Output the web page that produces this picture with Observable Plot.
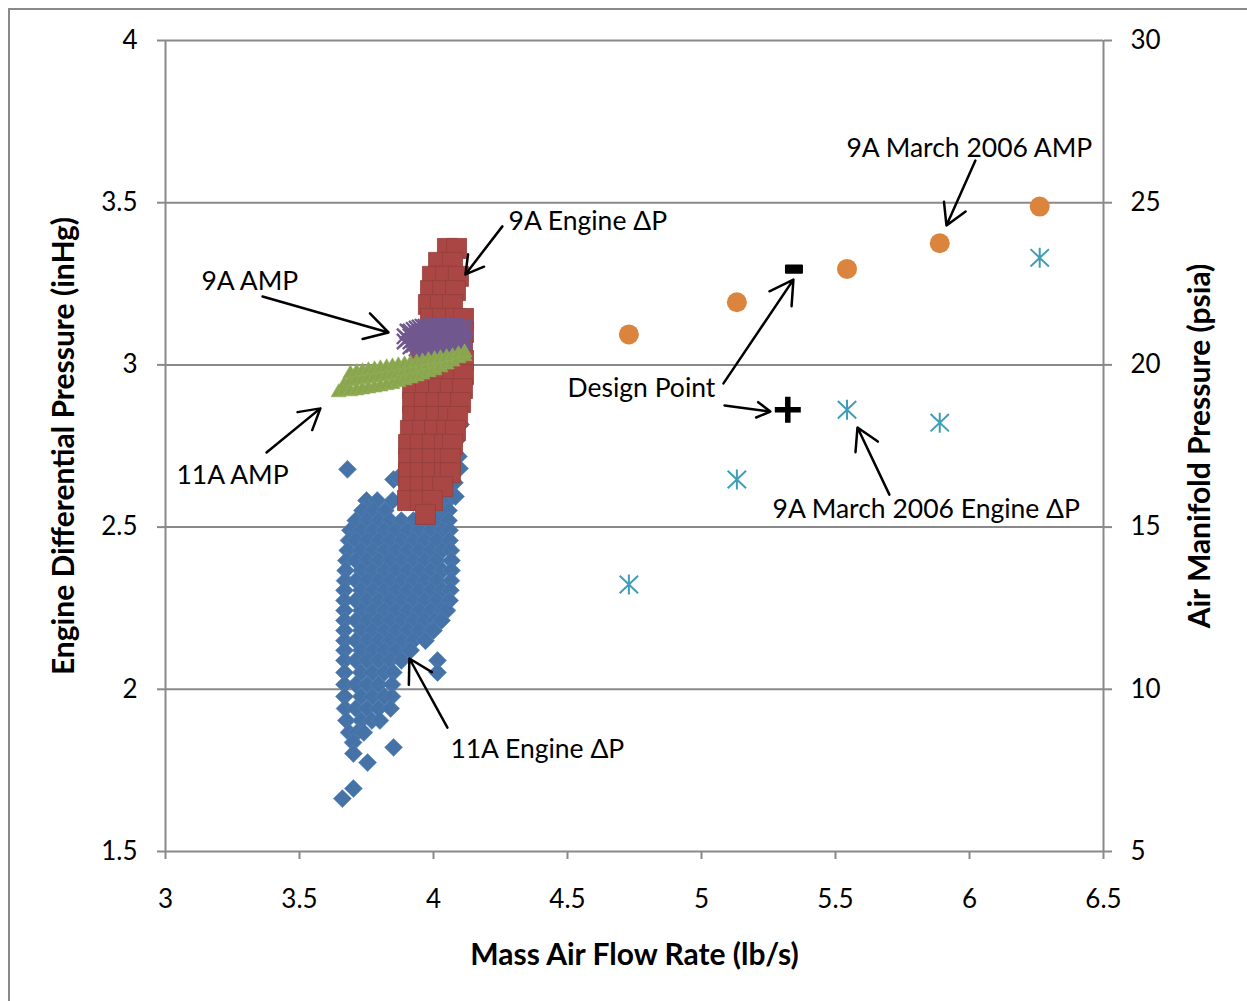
<!DOCTYPE html>
<html><head><meta charset="utf-8">
<script src="https://cdn.jsdelivr.net/npm/d3@7"></script>
<script src="https://cdn.jsdelivr.net/npm/@observablehq/plot@0.6"></script>
<style>
html,body{margin:0;padding:0;background:#fff;overflow:hidden;}
#wrap{position:relative;width:1247px;height:1001px;overflow:hidden;}
#frame{position:absolute;left:8px;top:8px;width:1300px;height:1100px;border-top:2px solid #8a8a8a;border-left:2px solid #8a8a8a;pointer-events:none;}
</style></head>
<body><div id="wrap"><div id="frame"></div></div>
<script>
// ---- axes ----
const xTicks = [3, 3.5, 4, 4.5, 5, 5.5, 6, 6.5];
const yLeftTicks = [1.5, 2, 2.5, 3, 3.5, 4];
const yRightTicks = [5, 10, 15, 20, 25, 30];
const xTitle = "Mass Air Flow Rate (lb/s)";
const yLeftTitle = "Engine Differential Pressure (inHg)";
const yRightTitle = "Air Manifold Pressure (psia)";

// ---- 11A Engine ΔP (inHg) : rows of [y, [x...]] ----
const blueRows = [
  [2.582, [3.75, 3.79, 3.848, 4.055]],
  [2.551, [3.735, 3.775, 3.82, 4.035, 4.056]],
  [2.520, [3.71, 3.752, 3.795, 3.838, 3.88, 3.925, 3.968, 4.01, 4.056]],
  [2.490, [3.69, 3.73, 3.773, 3.817, 3.86, 3.903, 3.946, 3.99, 4.033, 4.06]],
  [2.459, [3.685, 3.71, 3.752, 3.795, 3.838, 3.882, 3.925, 3.968, 4.012, 4.06]],
  [2.428, [3.68, 3.73, 3.773, 3.817, 3.86, 3.903, 3.946, 3.99, 4.033, 4.065]],
  [2.397, [3.675, 3.71, 3.752, 3.795, 3.838, 3.882, 3.925, 3.968, 4.012, 4.067]],
  [2.366, [3.672, 3.73, 3.773, 3.817, 3.86, 3.903, 3.946, 3.99, 4.033, 4.067]],
  [2.335, [3.67, 3.71, 3.752, 3.795, 3.838, 3.882, 3.925, 3.968, 4.012, 4.065]],
  [2.305, [3.668, 3.73, 3.773, 3.817, 3.86, 3.903, 3.946, 3.99, 4.033, 4.063]],
  [2.274, [3.668, 3.71, 3.752, 3.795, 3.838, 3.882, 3.925, 3.968, 4.012, 4.06]],
  [2.243, [3.668, 3.73, 3.773, 3.817, 3.86, 3.903, 3.946, 3.99, 4.033, 4.05]],
  [2.212, [3.668, 3.71, 3.752, 3.795, 3.838, 3.882, 3.925, 3.968, 4.005, 4.03]],
  [2.181, [3.668, 3.73, 3.773, 3.817, 3.86, 3.903, 3.946, 3.99, 4.0]],
  [2.150, [3.668, 3.71, 3.752, 3.795, 3.838, 3.882, 3.925, 3.97]],
  [2.120, [3.668, 3.73, 3.773, 3.817, 3.86, 3.903, 3.915]],
  [2.089, [3.668, 3.71, 3.752, 3.795, 3.838, 3.88, 4.015]],
  [2.052, [3.668, 3.73, 3.773, 3.817, 3.85, 4.015]],
  [2.015, [3.668, 3.71, 3.752, 3.795, 3.845]],
  [1.978, [3.668, 3.73, 3.773, 3.817, 3.845]],
  [1.941, [3.67, 3.71, 3.752, 3.795, 3.84]],
  [1.904, [3.675, 3.73, 3.77, 3.80]],
  [1.867, [3.685, 3.715, 3.74]],
  [1.836, [3.70]]
];
const blueExtra = [
  [3.851, 1.821], [3.701, 1.802], [3.754, 1.774], [3.701, 1.694], [3.660, 1.663],
  [3.679, 2.678], [3.851, 2.647], [3.869, 2.653],
  [4.101, 2.816], [4.086, 2.767], [4.093, 2.718], [4.097, 2.681], [4.078, 2.637], [4.082, 2.594]
];

// ---- 9A Engine ΔP (inHg) : rows of [y, [x...]] ----
const redRows = [
  [3.359, [4.052, 4.086]],
  [3.316, [4.019, 4.071]],
  [3.273, [3.996, 4.045, 4.093]],
  [3.229, [3.989, 4.034, 4.082]],
  [3.186, [3.981, 4.026, 4.071]],
  [3.143, [3.989, 4.034, 4.082, 4.112]],
  [3.100, [3.981, 4.026, 4.071, 4.112]],
  [3.057, [3.970, 4.019, 4.063, 4.108]],
  [3.014, [3.951, 3.996, 4.045, 4.093, 4.112]],
  [2.970, [3.933, 3.981, 4.026, 4.071, 4.112]],
  [2.927, [3.922, 3.970, 4.019, 4.063, 4.108]],
  [2.884, [3.922, 3.966, 4.011, 4.056, 4.101]],
  [2.841, [3.922, 3.966, 4.011, 4.056, 4.090]],
  [2.798, [3.914, 3.959, 4.004, 4.049, 4.082]],
  [2.755, [3.907, 3.951, 3.996, 4.041, 4.071]],
  [2.711, [3.907, 3.951, 3.996, 4.041, 4.063]],
  [2.668, [3.907, 3.951, 3.996, 4.041, 4.063]],
  [2.625, [3.907, 3.951, 3.996, 4.034]],
  [2.582, [3.903, 3.951, 3.996]],
  [2.539, [3.970]]
];

// ---- 11A AMP (psia) : [x, psia] ----
const greenAMP = [
  [3.646,19.15],
  [3.668,19.21],[3.668,19.40],
  [3.690,19.18],[3.690,19.49],[3.690,19.73],
  [3.713,19.21],[3.713,19.52],[3.713,19.77],
  [3.735,19.24],[3.735,19.55],[3.735,19.80],
  [3.757,19.27],[3.757,19.58],[3.757,19.83],
  [3.780,19.30],[3.780,19.61],[3.780,19.86],
  [3.802,19.33],[3.802,19.64],[3.802,19.89],
  [3.825,19.37],[3.825,19.67],[3.825,19.92],
  [3.847,19.40],[3.847,19.70],[3.847,19.95],
  [3.869,19.46],[3.869,19.73],[3.869,19.98],
  [3.892,19.52],[3.892,19.80],[3.892,20.01],
  [3.914,19.58],[3.914,19.86],[3.914,20.04],
  [3.937,19.64],[3.937,19.92],[3.937,20.07],
  [3.959,19.70],[3.959,19.98],[3.959,20.10],
  [3.981,19.77],[3.981,20.01],[3.981,20.14],
  [4.004,19.83],[4.004,20.07],[4.004,20.17],
  [4.026,19.92],[4.026,20.14],[4.026,20.20],
  [4.049,20.01],[4.049,20.23],
  [4.071,20.10],[4.071,20.26],
  [4.093,20.20],[4.093,20.32],
  [4.116,20.26],[4.116,20.38]
];

// ---- 9A AMP (psia) : columns of [x, [psia...]] ----
const purpleCols = [
  [3.892, [20.88, 20.72]],
  [3.903, [21.03, 20.80]],
  [3.914, [21.03, 20.88, 20.72, 20.57]],
  [3.926, [21.08, 20.93, 20.77, 20.62]],
  [3.937, [21.12, 20.97, 20.82, 20.66, 20.50]],
  [3.948, [21.15, 21.00, 20.85, 20.69, 20.52]],
  [3.959, [21.18, 21.03, 20.88, 20.72, 20.57, 20.44]],
  [3.970, [21.18, 21.03, 20.88, 20.72, 20.57, 20.44]],
  [3.981, [21.18, 21.03, 20.88, 20.72, 20.57, 20.44]],
  [3.992, [21.20, 21.05, 20.90, 20.74, 20.59, 20.46]],
  [4.004, [21.21, 21.06, 20.91, 20.75, 20.60, 20.47]],
  [4.015, [21.21, 21.06, 20.91, 20.75, 20.60, 20.47]],
  [4.026, [21.21, 21.06, 20.91, 20.75, 20.60, 20.47]],
  [4.037, [21.21, 21.06, 20.91, 20.75, 20.60, 20.47]],
  [4.049, [21.21, 21.06, 20.91, 20.75, 20.60, 20.47]],
  [4.060, [21.21, 21.06, 20.91, 20.75, 20.60, 20.49]],
  [4.071, [21.21, 21.06, 20.91, 20.75, 20.60, 20.50]],
  [4.082, [21.20, 21.05, 20.90, 20.74, 20.58]],
  [4.093, [21.18, 21.03, 20.88, 20.72, 20.57]],
  [4.104, [21.16, 21.01, 20.86, 20.70]],
  [4.116, [21.15, 21.00, 20.85, 20.69]]
];

// ---- 9A March 2006 ----
const marchFlow = [4.729, 5.132, 5.543, 5.889, 6.262];
const marchAMP = [20.94, 21.93, 22.96, 23.75, 24.88];      // psia
const marchDP = [2.323, 2.647, 2.862, 2.822, 3.330];      // inHg

// ---- Design point ----
const designDP = [{x: 5.322, y: 2.862}];     // inHg
const designAMP = [{x: 5.345, psia: 22.95}]; // psia

// ---- annotations (data units, left axis) ----
const annLabels = [
  {x: 5.541, y: 3.667, text: "9A March 2006 AMP"},
  {x: 4.280, y: 3.442, text: "9A Engine \u0394P"},
  {x: 3.134, y: 3.257, text: "9A AMP"},
  {x: 4.500, y: 2.927, text: "Design Point"},
  {x: 3.041, y: 2.659, text: "11A AMP"},
  {x: 5.265, y: 2.554, text: "9A March 2006 Engine \u0394P"},
  {x: 4.063, y: 1.814, text: "11A Engine \u0394P"}
];
const annArrows = [
  {x1: 6.022, y1: 3.630, x2: 5.914, y2: 3.430},
  {x1: 4.257, y1: 3.427, x2: 4.119, y2: 3.279},
  {x1: 3.362, y1: 3.211, x2: 3.832, y2: 3.100},
  {x1: 5.082, y1: 2.943, x2: 5.343, y2: 3.263},
  {x1: 5.086, y1: 2.875, x2: 5.257, y2: 2.856},
  {x1: 3.377, y1: 2.730, x2: 3.578, y2: 2.866},
  {x1: 5.701, y1: 2.600, x2: 5.582, y2: 2.807},
  {x1: 4.052, y1: 1.882, x2: 3.910, y2: 2.095}
];

// secondary axis mapping psia -> left-axis units
const toLeft = p => yLeftTicks[0] + (p - yRightTicks[0]) * (yLeftTicks[1] - yLeftTicks[0]) / (yRightTicks[1] - yRightTicks[0]);

const blue = blueRows.flatMap(([y, xs]) => xs.map(x => ({x, y}))).concat(blueExtra.map(([x, y]) => ({x, y})));
const red = redRows.flatMap(([y, xs]) => xs.map(x => ({x, y})));
const green = greenAMP.map(([x, p]) => ({x, y: toLeft(p)}));
const purple = purpleCols.flatMap(([x, ps]) => ps.map(p => ({x, y: toLeft(p)})));
const marchA = marchFlow.map((x, i) => ({x, y: toLeft(marchAMP[i])}));
const marchD = marchFlow.map((x, i) => ({x, y: marchDP[i]}));

const starSymbol = {draw(ctx, size) { const r = Math.sqrt(size / Math.PI); const a = r * 0.92;
  ctx.moveTo(0, -r); ctx.lineTo(0, r); ctx.moveTo(-a, -a * 0.95); ctx.lineTo(a, a * 0.95); ctx.moveTo(-a, a * 0.95); ctx.lineTo(a, -a * 0.95); }};
const plusSymbol = {draw(ctx, size) { const r = Math.sqrt(size / Math.PI);
  ctx.moveTo(-r, 0); ctx.lineTo(r, 0); ctx.moveTo(0, -r); ctx.lineTo(0, r); }};
const dashSymbol = {draw(ctx, size) { const r = Math.sqrt(size / Math.PI);
  ctx.moveTo(-r, -r * 0.45); ctx.lineTo(r, -r * 0.45); ctx.lineTo(r, r * 0.45); ctx.lineTo(-r, r * 0.45); ctx.closePath(); }};

const gray = "#898989";
const chart = Plot.plot({
  width: 1247, height: 1001,
  marginLeft: 165, marginRight: 144, marginTop: 40, marginBottom: 150,
  x: {domain: [3, 6.5]},
  y: {domain: [1.5, 4]},
  style: {fontFamily: "Lato, 'Open Sans', sans-serif", fontSize: "26px", background: "transparent", color: "black", overflow: "visible"},
  marks: [
    Plot.ruleY(yLeftTicks.slice(1), {stroke: gray, strokeWidth: 2}),
    Plot.ruleX([xTicks[0], xTicks[xTicks.length - 1]], {stroke: gray, strokeWidth: 2}),
    Plot.ruleY([yLeftTicks[0]], {stroke: gray, strokeWidth: 2}),
    Plot.dot(blue, {x: "x", y: "y", symbol: "diamond2", r: 8.1, fill: "#4572A7", stroke: "#5583bb", strokeWidth: 0.6}),
    Plot.dot(red, {x: "x", y: "y", symbol: "square", r: 11.3, fill: "#AA4643", stroke: "#94403d", strokeWidth: 0.8}),
    Plot.dot(purple, {x: "x", y: "y", symbol: "times", r: 7, stroke: "#71588F", strokeWidth: 2.4}),
    Plot.dot(green, {x: "x", y: "y", symbol: "triangle", r: 5.6, fill: "#89A54E", stroke: "#96b25a", strokeWidth: 0.6}),
    Plot.dot(marchA, {x: "x", y: "y", r: 10, fill: "#DB843D"}),
    Plot.dot(marchD, {x: "x", y: "y", symbol: starSymbol, r: 10, stroke: "#3F9DB8", strokeWidth: 2, fill: "none"}),
    Plot.dot(designDP, {x: "x", y: "y", symbol: plusSymbol, r: 13, stroke: "black", strokeWidth: 5.5, fill: "none"}),
    Plot.dot(designAMP, {x: "x", y: d => toLeft(d.psia), symbol: dashSymbol, r: 8, fill: "black", stroke: "black", strokeWidth: 2, strokeLinejoin: "round"}),
    Plot.arrow(annArrows, {x1: "x1", y1: "y1", x2: "x2", y2: "y2", stroke: "black", strokeWidth: 2.5, headLength: 16, headAngle: 60}),
    Plot.text(annLabels, {x: "x", y: "y", text: "text", textAnchor: "start", lineAnchor: "middle", fontSize: 26.5, fill: "black"}),
    Plot.axisX(xTicks, {tickSize: 8, tickPadding: 30, stroke: gray, strokeWidth: 2, fill: "black", fontSize: 26, tickFormat: d => String(d), label: null}),
    Plot.axisY(yLeftTicks, {anchor: "left", tickSize: 8, tickPadding: 20, stroke: gray, strokeWidth: 2, fill: "black", fontSize: 26, tickFormat: d => String(d), label: null}),
    Plot.axisY(yLeftTicks, {anchor: "right", tickSize: 8, tickPadding: 19, stroke: gray, strokeWidth: 2, fill: "black", fontSize: 26, tickFormat: d => String(yRightTicks[yLeftTicks.indexOf(d)]), label: null}),
    Plot.text([xTitle], {text: d => d, frameAnchor: "bottom", dy: 104, textAnchor: "middle", lineAnchor: "middle", fontWeight: "bold", fontSize: 30, fill: "black"}),
    Plot.text([yLeftTitle], {text: d => d, frameAnchor: "left", dx: -101, rotate: -90, textAnchor: "middle", lineAnchor: "middle", fontWeight: "bold", fontSize: 30, fill: "black"}),
    Plot.text([yRightTitle], {text: d => d, frameAnchor: "right", dx: 97, rotate: -90, textAnchor: "middle", lineAnchor: "middle", fontWeight: "bold", fontSize: 30, fill: "black"})
  ]
});
document.getElementById("wrap").prepend(chart);
</script></body></html>
